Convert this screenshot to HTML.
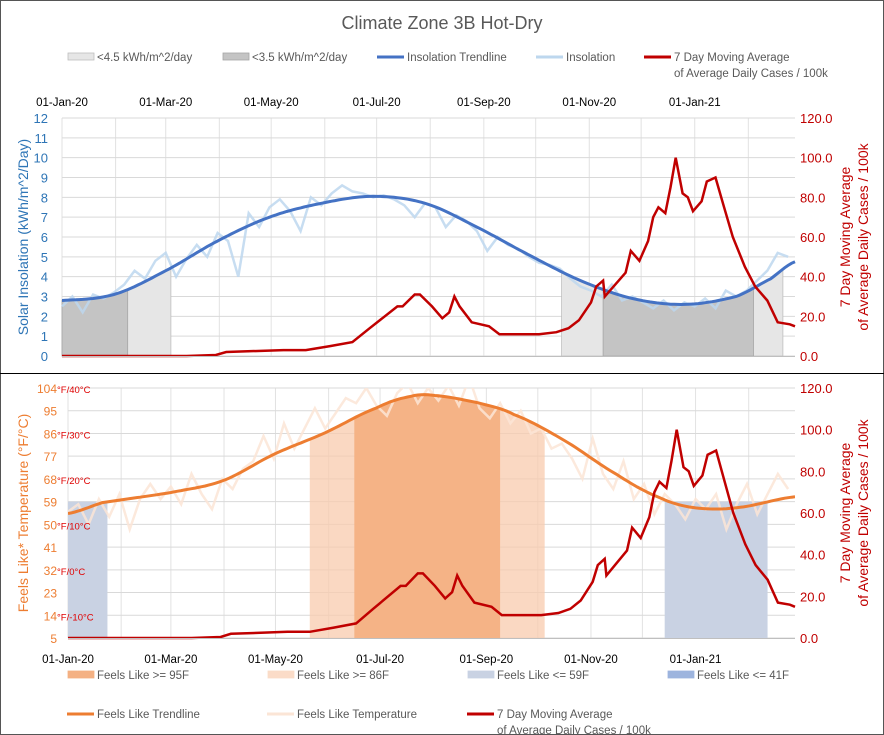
<!DOCTYPE html>
<html><head><meta charset="utf-8"><style>
html,body{margin:0;padding:0;background:#fff}
svg{display:block;font-family:"Liberation Sans",sans-serif}
</style></head><body>
<svg id="c" width="884" height="735" viewBox="0 0 884 735">
<rect x="0.5" y="0.5" width="883" height="734" fill="#fff" stroke="#555"/>
<text x="442" y="29" text-anchor="middle" font-size="18" fill="#595959">Climate Zone 3B Hot-Dry</text>
<line x1="0" y1="373.5" x2="884" y2="373.5" stroke="#000" stroke-width="1"/>
<g id="topchart"></g><g id="botchart"></g><g id="leg"></g>
</svg>
<script>
// ---- data ----
const monthDays = [0,31,60,91,121,152,182,213,244,274,305,335,366,397];
const dateLabelDays = [0,60,121,182,244,305,366];
const dateLabels = ["01-Jan-20","01-Mar-20","01-May-20","01-Jul-20","01-Sep-20","01-Nov-20","01-Jan-21"];
const insolTicks = [0,1,2,3,4,5,6,7,8,9,10,11,12];
const caseTicks = [0,20,40,60,80,100,120];
const tempTicks = [5,14,23,32,41,50,59,68,77,86,95,104];
const tempCelsius = {104:"40",86:"30",68:"20",50:"10",32:"0",14:"-10"};
const insolDays = [0,6,12,18,24,30,36,42,48,54,60,66,72,78,84,90,96,102,108,114,120,126,132,138,144,150,156,162,168,174,180,186,192,198,204,210,216,222,228,234,240,246,252,258,264,270,276,282,288,294,300,306,312,318,324,330,336,342,348,354,360,366,372,378,384,390,396,402,408,414,420];
const insolValues = [2.5,3.0,2.2,3.1,2.9,3.2,3.6,4.3,3.9,4.8,5.2,4.0,4.9,5.6,5.0,6.2,5.8,4.0,7.2,6.5,7.5,7.9,7.3,6.3,8.0,7.6,8.2,8.6,8.3,8.2,8.0,8.1,7.9,7.6,7.0,7.7,7.5,6.5,7.1,6.8,6.3,5.3,6.0,5.6,5.4,5.0,4.7,4.6,4.4,3.9,3.5,3.3,3.0,3.6,2.8,3.0,2.7,2.4,2.8,2.3,2.7,2.5,2.9,2.4,3.3,3.0,3.3,3.8,4.3,5.2,5.0];
const insolTrendDays = [0,30,60,90,120,150,180,210,240,270,300,330,360,390,410,424];
const insolTrendValues = [2.8,3.1,4.3,5.8,7.0,7.7,8.05,7.7,6.5,5.1,3.8,2.9,2.6,3.0,3.9,4.75];
const caseDays = [0,72,89,95,128,141,155,168,178,194,197,204,207,214,220,224,227,230,237,247,253,260,276,286,293,299,306,309,313,314,319,326,329,334,339,342,345,349,352,355,359,362,365,370,373,378,383,388,395,401,408,414,421,424];
const caseValues = [0,0,0.5,2,3,3,5,7,14,25,25,31,31,25,19,22,30,25,17,15,11,11,11,12,14,18,27,35,38,30,35,42,53,48,58,70,75,72,85,100,82,80,73,78,88,90,75,60,45,35,28,17,16,15];
const tempDays = insolDays;
const tempValues = [55,58,50,60,53,62,48,60,66,60,65,58,70,62,56,68,64,72,75,85,76,90,80,88,96,88,94,100,98,104,97,93,102,106,98,104,99,105,97,108,96,92,98,90,95,86,88,80,82,76,68,84,70,64,75,60,66,54,62,58,52,60,56,62,48,58,66,54,62,70,64];
const tempTrendDays = [0,20,60,90,120,150,180,200,213,240,260,290,320,345,365,390,424];
const tempTrendValues = [54.3,58.6,62.6,67.2,77.7,86.3,96.1,100.7,101.1,98,93.5,83,69.8,60.6,56.6,56.6,60.9];
const lowInsolRanges = [[0,63],[289,417]];
const veryLowInsolRanges = [[0,38],[313,400]];
const hot95Ranges = [[167,252]];
const hot86Ranges = [[141,278]];
const cold59Ranges = [[0,23],[348,408]];

// ---- scales ----
const NS="http://www.w3.org/2000/svg";
const DMAX=424;
const T={x0:62,x1:795,y0:356,y1:118};
const B={x0:68,x1:795,y0:638,y1:388};
const tx=d=>T.x0+d*(T.x1-T.x0)/DMAX;
const bx=d=>B.x0+d*(B.x1-B.x0)/DMAX;
const tyI=v=>T.y0-v*(T.y0-T.y1)/12;
const tyC=v=>T.y0-v*(T.y0-T.y1)/120;
const byT=v=>B.y0-(v-5)*(B.y0-B.y1)/99;
const byC=v=>B.y0-v*(B.y0-B.y1)/120;
function el(p,tag,attrs,txt){const e=document.createElementNS(NS,tag);for(const k in attrs)e.setAttribute(k,attrs[k]);if(txt!=null)e.textContent=txt;p.appendChild(e);return e;}
function interp(ds,vs,d){if(d<=ds[0])return vs[0];for(let i=1;i<ds.length;i++){if(d<=ds[i]){const t=(d-ds[i-1])/(ds[i]-ds[i-1]);
const p0=vs[Math.max(0,i-2)],p1=vs[i-1],p2=vs[i],p3=vs[Math.min(vs.length-1,i+1)];
return 0.5*((2*p1)+(-p0+p2)*t+(2*p0-5*p1+4*p2-p3)*t*t+(-p0+3*p1-3*p2+p3)*t*t*t);}}return vs[vs.length-1];}
function poly(ds,vs,X,Y){return ds.map((d,i)=>X(d).toFixed(1)+","+Y(vs[i]).toFixed(1)).join(" ");}
function smooth(ds,vs,X,Y){const pts=[];for(let d=0;d<=DMAX;d+=2)pts.push(X(d).toFixed(1)+","+Y(interp(ds,vs,d)).toFixed(1));return pts.join(" ");}
function areaUnder(ds,vs,X,Y,a,b,base){const pts=[X(a)+","+base];for(let d=a;d<=b;d+=1)pts.push(X(d).toFixed(1)+","+Y(interp(ds,vs,d)).toFixed(1));pts.push(X(b)+","+base);return pts.join(" ");}

// ---- top chart ----
const topG=document.getElementById('topchart');
monthDays.forEach(d=>{const g=el(topG,'line',{x1:tx(d),x2:tx(d),y1:T.y1,y2:T.y0,stroke:'#e2e2e2'});

});
insolTicks.forEach(v=>{const g=el(topG,'line',{x1:T.x0,x2:T.x1,y1:tyI(v),y2:tyI(v),stroke:'#d9d9d9'});


const t=el(topG,'text',{x:48,y:tyI(v)+5,'text-anchor':'end','font-size':13,fill:'#2e75b6'},String(v));

});
caseTicks.forEach(v=>{const t=el(topG,'text',{x:800,y:tyC(v)+5,'font-size':13,fill:'#c00000'},v.toFixed(1));

});
dateLabelDays.forEach((d,i)=>{const t=el(topG,'text',{x:tx(d),y:106,'text-anchor':'middle','font-size':11.5,fill:'#000'},dateLabels[i]);

});
lowInsolRanges.forEach(r=>{const p=el(topG,'polygon',{points:areaUnder(insolTrendDays,insolTrendValues,tx,tyI,r[0],r[1],T.y0),fill:'#e6e6e6',stroke:'#bfbfbf','stroke-width':0.8});

});
veryLowInsolRanges.forEach(r=>{const p=el(topG,'polygon',{points:areaUnder(insolTrendDays,insolTrendValues,tx,tyI,r[0],r[1],T.y0),fill:'#c4c4c4',stroke:'#a6a6a6','stroke-width':0.8});

});
let l=el(topG,'polyline',{points:poly(insolDays,insolValues,tx,tyI),fill:'none',stroke:'#bdd7ee','stroke-width':2.5,opacity:0.85});


l=el(topG,'polyline',{points:smooth(insolTrendDays,insolTrendValues,tx,tyI),fill:'none',stroke:'#4472c4','stroke-width':3});


l=el(topG,'polyline',{points:poly(caseDays,caseValues,tx,tyC),fill:'none',stroke:'#c00000','stroke-width':2.5});


let a=el(topG,'line',{x1:T.x0,x2:T.x1,y1:T.y0+0.5,y2:T.y0+0.5,stroke:'#bfbfbf'});


let tt=el(topG,'text',{transform:'translate(28,237) rotate(-90)','text-anchor':'middle','font-size':14,fill:'#2e75b6'},'Solar Insolation (kWh/m^2/Day)');


tt=el(topG,'text',{transform:'translate(850,237) rotate(-90)','text-anchor':'middle','font-size':14,fill:'#c00000'},'7 Day Moving Average');


tt=el(topG,'text',{transform:'translate(868,237) rotate(-90)','text-anchor':'middle','font-size':14,fill:'#c00000'},'of Average Daily Cases / 100k');



// ---- bottom chart ----
const botG=document.getElementById('botchart');
const clip=el(botG,'clipPath',{id:'bclip'});el(clip,'rect',{x:B.x0,y:B.y1,width:B.x1-B.x0,height:B.y0-B.y1});
monthDays.forEach(d=>{const g=el(botG,'line',{x1:bx(d),x2:bx(d),y1:B.y1,y2:B.y0,stroke:'#e2e2e2'});

});
tempTicks.forEach(v=>{const g=el(botG,'line',{x1:B.x0,x2:B.x1,y1:byT(v),y2:byT(v),stroke:'#d9d9d9'});

});
caseTicks.forEach(v=>{const t=el(botG,'text',{x:800,y:byC(v)+5,'font-size':13,fill:'#c00000'},v.toFixed(1));

});
dateLabelDays.forEach((d,i)=>{const t=el(botG,'text',{x:bx(d),y:663,'text-anchor':'middle','font-size':11.5,fill:'#000'},dateLabels[i]);

});
const gb=el(botG,'g',{'clip-path':'url(#bclip)'});
hot86Ranges.forEach(r=>{const p=el(gb,'polygon',{points:areaUnder(tempTrendDays,tempTrendValues,bx,byT,r[0],r[1],B.y0),fill:'#f8cbad',opacity:0.75});

});
hot95Ranges.forEach(r=>{const p=el(gb,'polygon',{points:areaUnder(tempTrendDays,tempTrendValues,bx,byT,r[0],r[1],B.y0),fill:'#f4b183',opacity:0.95});

});
cold59Ranges.forEach(r=>{const p=el(gb,'rect',{x:bx(r[0]),y:byT(59),width:bx(r[1])-bx(r[0]),height:B.y0-byT(59),fill:'#c9d2e3'});

});
l=el(gb,'polyline',{points:poly(tempDays,tempValues,bx,byT),fill:'none',stroke:'#fbe5d6','stroke-width':2.5,opacity:0.85});


l=el(gb,'polyline',{points:smooth(tempTrendDays,tempTrendValues,bx,byT),fill:'none',stroke:'#ed7d31','stroke-width':3});


l=el(botG,'polyline',{points:poly(caseDays,caseValues,bx,byC),fill:'none',stroke:'#c00000','stroke-width':2.5});


a=el(botG,'line',{x1:B.x0,x2:B.x1,y1:B.y0+0.5,y2:B.y0+0.5,stroke:'#bfbfbf'});


tempTicks.forEach(v=>{const t=el(botG,'text',{x:57,y:byT(v)+5,'text-anchor':'end','font-size':12,fill:'#ed7d31'},String(v));


if(tempCelsius[v]!=null){const c=el(botG,'text',{x:57,y:byT(v)+5,'font-size':9.5,fill:'#e00000'},'°F/'+tempCelsius[v]+'°C');

}});
tt=el(botG,'text',{transform:'translate(28,513) rotate(-90)','text-anchor':'middle','font-size':14,fill:'#ed7d31'},'Feels Like* Temperature (°F/°C)');


tt=el(botG,'text',{transform:'translate(850,513) rotate(-90)','text-anchor':'middle','font-size':14,fill:'#c00000'},'7 Day Moving Average');


tt=el(botG,'text',{transform:'translate(868,513) rotate(-90)','text-anchor':'middle','font-size':14,fill:'#c00000'},'of Average Daily Cases / 100k');



// ---- legends ----
const leg=document.getElementById('leg');
function boxEntry(x,y,fill,stroke,label,name){const g=el(leg,'g',{});


el(g,'rect',{x:x,y:y-4,width:26,height:7,fill:fill,stroke:stroke,'stroke-width':0.8});
el(g,'text',{x:x+29,y:y+4,'font-size':11.5,fill:'#595959'},label);}
function lineEntry(x,y,col,w,label,label2,name){const g=el(leg,'g',{});


el(g,'line',{x1:x,x2:x+27,y1:y,y2:y,stroke:col,'stroke-width':w});
el(g,'text',{x:x+30,y:y+4,'font-size':11.5,fill:'#595959'},label);
if(label2)el(g,'text',{x:x+30,y:y+20,'font-size':11.5,fill:'#595959'},label2);}
boxEntry(68,57,'#e6e6e6','#bfbfbf','<4.5 kWh/m^2/day','legend-below-4.5');
boxEntry(223,57,'#c4c4c4','#a6a6a6','<3.5 kWh/m^2/day','legend-below-3.5');
lineEntry(377,57,'#4472c4',3,'Insolation Trendline',null,'legend-insolation-trendline');
lineEntry(536,57,'#bdd7ee',3,'Insolation',null,'legend-insolation');
lineEntry(644,57,'#c00000',3,'7 Day Moving Average','of Average Daily Cases / 100k','legend-cases-top');
boxEntry(68,675,'#f4b183','#f4b183','Feels Like >= 95F','legend-feels-95');
boxEntry(268,675,'#fbdcc8','#fbdcc8','Feels Like >= 86F','legend-feels-86');
boxEntry(468,675,'#c9d2e3','#c9d2e3','Feels Like <= 59F','legend-feels-59');
boxEntry(668,675,'#9db4de','#9db4de','Feels Like <= 41F','legend-feels-41');
lineEntry(67,714,'#ed7d31',3,'Feels Like Trendline',null,'legend-feels-trendline');
lineEntry(267,714,'#fbe5d6',3,'Feels Like Temperature',null,'legend-feels-temperature');
lineEntry(467,714,'#c00000',3,'7 Day Moving Average','of Average Daily Cases / 100k','legend-cases-bottom');
</script>
</body></html>
